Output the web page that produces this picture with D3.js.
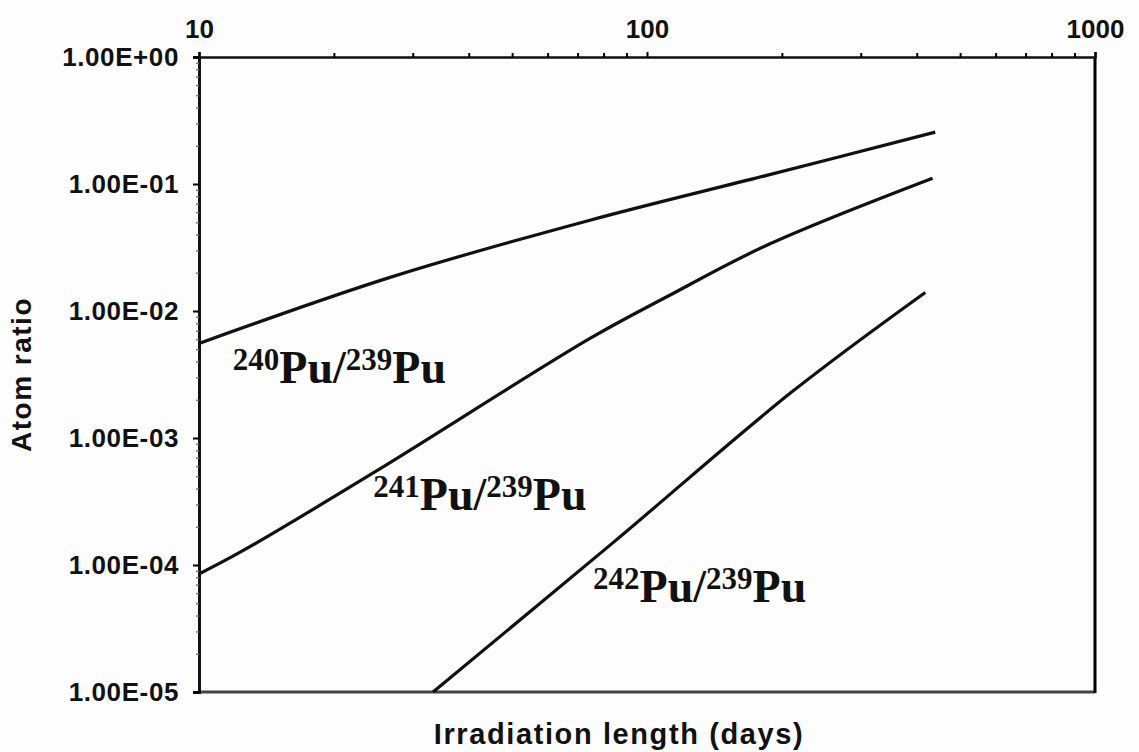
<!DOCTYPE html>
<html>
<head>
<meta charset="utf-8">
<script src="https://cdn.jsdelivr.net/npm/d3@7"></script>
<style>
  body { margin: 0; background: #fdfdfd; }
  svg { display: block; }
</style>
</head>
<body>
<div id="chart"></div>
<script>
var svgWidth = 1139;
var svgHeight = 752;

// data: irradiation length (days) vs atom ratio
var days240 = [10, 26.7, 74.6, 185, 440];
var ratio240 = [0.00555, 0.0184, 0.0519, 0.117, 0.256];

var days241 = [10, 12.5, 24.9, 74.6, 111, 185, 434];
var ratio241 = [8.5e-5, 1.29e-4, 5.5e-4, 6.08e-3, 0.0130, 0.0329, 0.111];

var days242 = [33.3, 84, 211, 418];
var ratio242 = [1.0e-5, 1.5e-4, 2.32e-3, 0.014];

var xTicks = [10, 100, 1000];
var yTicks = [1e-5, 1e-4, 1e-3, 1e-2, 1e-1, 1];
var yTickLabels = ["1.00E-05", "1.00E-04", "1.00E-03", "1.00E-02", "1.00E-01", "1.00E+00"];

// curve labels: mass number, anchor (days, ratio)
var labelMass = ["240", "241", "242"];
var labelDays = [11.9, 24.5, 75.8];
var labelRatio = [2.71e-3, 2.71e-4, 5.1e-5];

var margin = { top: 57, right: 44, bottom: 60, left: 199 };

var svg = d3.select("#chart")
  .append("svg")
  .attr("width", svgWidth)
  .attr("height", svgHeight);

var xScale = d3.scaleLog()
  .domain([10, 1000])
  .range([margin.left, svgWidth - margin.right]);

var yScale = d3.scaleLog()
  .domain([1e-5, 1])
  .range([svgHeight - margin.bottom, margin.top]);

var x0 = xScale.range()[0], x1 = xScale.range()[1];
var yTop = yScale.range()[1], yBot = yScale.range()[0];

// minor ticks for both log axes
var xMinor = [];
[10, 100].forEach(function(d) {
  for (var k = 2; k <= 9; k++) xMinor.push(d * k);
});
var yMinor = [];
[1e-5, 1e-4, 1e-3, 1e-2, 1e-1].forEach(function(d) {
  for (var k = 2; k <= 9; k++) yMinor.push(d * k);
});

// frame: bottom and right
svg.append("line")
  .attr("x1", x0).attr("x2", x1)
  .attr("y1", yBot).attr("y2", yBot)
  .attr("stroke", "#444")
  .attr("stroke-width", 3);

svg.append("line")
  .attr("x1", x1).attr("x2", x1)
  .attr("y1", yTop).attr("y2", yBot + 1)
  .attr("stroke", "#000")
  .attr("stroke-width", 3);

// top x axis
var topAxis = d3.axisTop(xScale)
  .tickValues(xTicks)
  .tickFormat(d3.format("d"))
  .tickSize(5)
  .tickPadding(14);

var xAxis = svg.append("g")
  .attr("transform", `translate(0, ${yTop})`)
  .call(topAxis);

xAxis.select(".domain").attr("stroke", "#111").attr("stroke-width", 2.5);
xAxis.selectAll(".tick line").attr("stroke-width", 2);
xAxis.selectAll("text")
  .attr("font-family", "Liberation Sans, Arial, sans-serif")
  .attr("font-weight", "bold")
  .attr("font-size", 26)
  .attr("fill", "#111");

var xMinorAxis = svg.append("g")
  .attr("transform", `translate(0, ${yTop})`)
  .call(d3.axisTop(xScale).tickValues(xMinor).tickFormat("").tickSize(4));
xMinorAxis.select(".domain").remove();
xMinorAxis.selectAll(".tick line").attr("stroke-width", 2);

// left y axis
var leftAxis = d3.axisLeft(yScale)
  .tickValues(yTicks)
  .tickFormat(function(d, i) { return yTickLabels[i]; })
  .tickSize(6)
  .tickPadding(14);

var yAxis = svg.append("g")
  .attr("transform", `translate(${x0}, 0)`)
  .call(leftAxis);

yAxis.select(".domain").attr("stroke", "#111").attr("stroke-width", 3);
yAxis.selectAll(".tick line").attr("stroke-width", 2);
yAxis.selectAll("text")
  .attr("font-family", "Liberation Sans, Arial, sans-serif")
  .attr("font-weight", "bold")
  .attr("font-size", 26)
  .attr("letter-spacing", 0.6)
  .attr("fill", "#111");

var yMinorAxis = svg.append("g")
  .attr("transform", `translate(${x0}, 0)`)
  .call(d3.axisLeft(yScale).tickValues(yMinor).tickFormat("").tickSize(3));
yMinorAxis.select(".domain").remove();
yMinorAxis.selectAll(".tick line").attr("stroke", "#777").attr("stroke-width", 1.5);

// curves
var line = d3.line()
  .x(d => xScale(d[0]))
  .y(d => yScale(d[1]))
  .curve(d3.curveCatmullRom.alpha(0.5));

var series = [
  d3.zip(days240, ratio240),
  d3.zip(days241, ratio241),
  d3.zip(days242, ratio242)
];

svg.selectAll(".curve")
  .data(series)
  .enter()
  .append("path")
  .attr("class", "curve")
  .attr("d", line)
  .attr("fill", "none")
  .attr("stroke", "#111")
  .attr("stroke-width", 3.2);

// curve labels
labelMass.forEach(function(m, i) {
  var t = svg.append("text")
    .attr("x", xScale(labelDays[i]))
    .attr("y", yScale(labelRatio[i]))
    .attr("font-family", "Liberation Serif, Times New Roman, serif")
    .attr("font-weight", "bold")
    .attr("fill", "#111");
  t.append("tspan").attr("font-size", 31).attr("dy", -13).text(m);
  t.append("tspan").attr("font-size", 46).attr("dy", 13).text("Pu/");
  t.append("tspan").attr("font-size", 31).attr("dy", -13).text("239");
  t.append("tspan").attr("font-size", 46).attr("dy", 13).text("Pu");
});

// axis titles
svg.append("text")
  .attr("transform", `translate(31, ${(yTop + yBot) / 2}) rotate(-90)`)
  .attr("text-anchor", "middle")
  .attr("font-family", "Liberation Sans, Arial, sans-serif")
  .attr("font-weight", "bold")
  .attr("font-size", 28)
  .attr("letter-spacing", 1.5)
  .attr("fill", "#111")
  .text("Atom ratio");

svg.append("text")
  .attr("x", (x0 + x1) / 2 - 28)
  .attr("y", 744)
  .attr("text-anchor", "middle")
  .attr("font-family", "Liberation Sans, Arial, sans-serif")
  .attr("font-weight", "bold")
  .attr("font-size", 29)
  .attr("letter-spacing", 1.6)
  .attr("fill", "#111")
  .text("Irradiation length (days)");
</script>
</body>
</html>
